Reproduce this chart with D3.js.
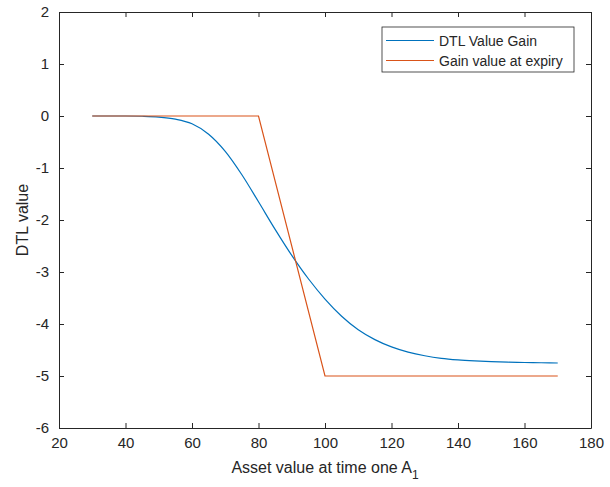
<!DOCTYPE html>
<html>
<head>
<meta charset="utf-8">
<script src="https://cdn.jsdelivr.net/npm/d3@7"></script>
<style>
  body { margin: 0; background: #fff; }
  text { font-family: "Liberation Sans", Arial, sans-serif; fill: #262626; }
</style>
</head>
<body>
<svg width="610" height="487"></svg>
<script>
// asset value A1 (x) and the two series
var assetX = [30, 35, 40, 45, 50, 55, 60, 65, 70, 75, 80, 85, 90, 95, 100, 105, 110,
              115, 120, 125, 130, 135, 140, 145, 150, 155, 160, 165, 170];
var dtlGain = [0, 0, 0, -0.005, -0.02, -0.06, -0.15, -0.35, -0.68, -1.13, -1.65, -2.18,
               -2.68, -3.13, -3.52, -3.85, -4.11, -4.30, -4.44, -4.54, -4.61, -4.66,
               -4.69, -4.71, -4.725, -4.735, -4.74, -4.745, -4.75];
var expiryX = [30, 80, 100, 170];
var expiryGain = [0, 0, -5, -5];

var xTicks = [20, 40, 60, 80, 100, 120, 140, 160, 180];
var yTicks = [-6, -5, -4, -3, -2, -1, 0, 1, 2];
var seriesNames = ["DTL Value Gain", "Gain value at expiry"];
var seriesColors = ["#0072BD", "#D95319"];

var svg = d3.select("svg");
var pLeft = 59, pRight = 591, pTop = 12, pBottom = 428;

var x = d3.scaleLinear().domain([20, 180]).range([pLeft, pRight]);
var y = d3.scaleLinear().domain([-6, 2]).range([pBottom, pTop]);

var axisColor = "#262626";
// plain hyphen for negatives, like the original
var fmt = function(d) { return String(d); };

// curves
var line = d3.line()
    .x(function(d) { return x(d[0]); })
    .y(function(d) { return y(d[1]); });

var blue = assetX.map(function(v, i) { return [v, dtlGain[i]]; });
var orange = expiryX.map(function(v, i) { return [v, expiryGain[i]]; });

svg.append("path")
    .attr("d", line.curve(d3.curveMonotoneX)(blue))
    .attr("fill", "none")
    .attr("stroke", seriesColors[0])
    .attr("stroke-width", 1.2);

svg.append("path")
    .attr("d", line.curve(d3.curveLinear)(orange))
    .attr("fill", "none")
    .attr("stroke", seriesColors[1])
    .attr("stroke-width", 1.2);

// axes (MATLAB style, ticks inward, box on)
var xAxis = d3.axisBottom(x).tickValues(xTicks).tickFormat(fmt).tickSizeInner(-5).tickSizeOuter(0).tickPadding(9);
var yAxis = d3.axisLeft(y).tickValues(yTicks).tickFormat(fmt).tickSizeInner(-5).tickSizeOuter(0).tickPadding(10);

svg.append("g").attr("transform", "translate(0," + pBottom + ")").call(xAxis);
svg.append("g").attr("transform", "translate(" + pLeft + ",0)").call(yAxis);
svg.append("g").attr("transform", "translate(0," + pTop + ")")
    .call(d3.axisTop(x).tickValues(xTicks).tickSizeInner(-5).tickSizeOuter(0).tickFormat(""));
svg.append("g").attr("transform", "translate(" + pRight + ",0)")
    .call(d3.axisRight(y).tickValues(yTicks).tickSizeInner(-5).tickSizeOuter(0).tickFormat(""));

svg.selectAll(".domain").attr("stroke", axisColor);
svg.selectAll(".tick line").attr("stroke", axisColor);
svg.selectAll(".tick text")
    .attr("font-family", "Liberation Sans, Arial, sans-serif")
    .attr("font-size", 15)
    .attr("fill", axisColor);

// axis labels
var xl = svg.append("text")
    .attr("x", (pLeft + pRight) / 2)
    .attr("y", 473)
    .attr("text-anchor", "middle")
    .attr("font-size", 16);
xl.append("tspan").text("Asset value at time one A");
xl.append("tspan").attr("dy", 6).attr("font-size", 12).text("1");

svg.append("text")
    .attr("transform", "translate(28," + ((pTop + pBottom) / 2) + ") rotate(-90)")
    .attr("text-anchor", "middle")
    .attr("font-size", 16)
    .text("DTL value");

// legend
var lg = svg.append("g").attr("transform", "translate(382,27)");
lg.append("rect")
    .attr("width", 192).attr("height", 45)
    .attr("fill", "#fff")
    .attr("stroke", axisColor)
    .attr("stroke-width", 0.8);
seriesNames.forEach(function(name, i) {
  var ly = 13.5 + i * 20;
  lg.append("line")
      .attr("x1", 4).attr("x2", 52)
      .attr("y1", ly).attr("y2", ly)
      .attr("stroke", seriesColors[i])
      .attr("stroke-width", 1.2);
  lg.append("text")
      .attr("x", 57).attr("y", ly + 5)
      .attr("font-size", 14)
      .text(name);
});
</script>
</body>
</html>
